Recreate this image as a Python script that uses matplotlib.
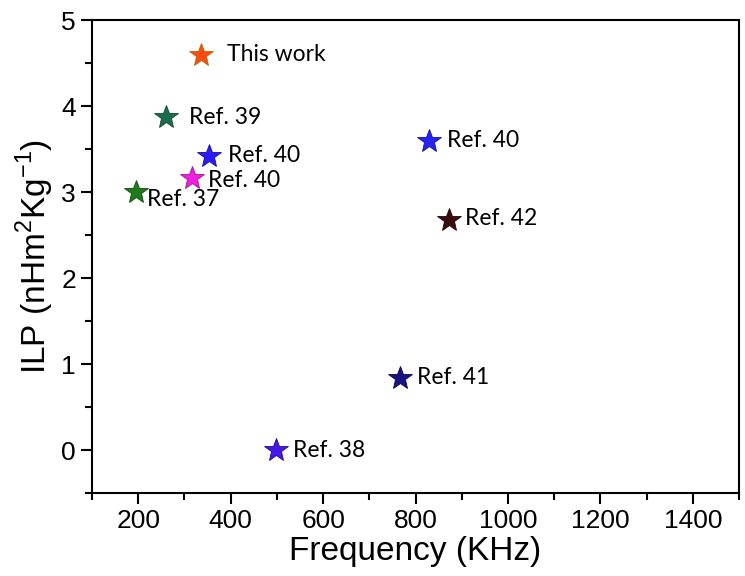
import matplotlib.pyplot as plt
from matplotlib.ticker import MultipleLocator

# data
freq = [335, 260, 353, 317, 196, 829, 872, 766, 498]
ilp = [4.6, 3.87, 3.42, 3.16, 3.0, 3.6, 2.68, 0.84, 0.0]
labels = ["This work", "Ref. 39", "Ref. 40", "Ref. 40", "Ref. 37",
          "Ref. 40", "Ref. 42", "Ref. 41", "Ref. 38"]
colors = ["#ff4a10", "#1d6a4c", "#2a1cf2", "#f21ee0", "#1f7a1c",
          "#2a22ee", "#3a0c0c", "#1a1480", "#4418e8"]
edges = ["#a07010", "#0e4a30", "#1010a0", "#a01090", "#0e4a0e",
         "#1010a0", "#200404", "#0a0850", "#2a0890"]
# label offsets in pixels (dx, dy)
offsets = [(26, 0), (23, 0), (19, 1), (16, -2), (11, -7),
           (18, 0), (16, 1), (17, 0), (17, 0)]

plt.rcParams['font.family'] = ['Liberation Sans', 'DejaVu Sans']

fig = plt.figure(figsize=(7.45, 5.76), dpi=100)
ax = fig.add_axes([0.1235, 0.144, 0.8685, 0.821])

for x, y, lab, c, ec, off in zip(freq, ilp, labels, colors, edges, offsets):
    ax.plot(x, y, marker='*', ms=18, color=c, mec=ec, mew=0.6, ls='none')
    ax.annotate(lab, (x, y), xytext=off, textcoords='offset pixels',
                ha='left', va='center', fontsize=16.5, family='Lato')

ax.set_xlim(100, 1500)
ax.set_ylim(-0.5, 5)
ax.xaxis.set_major_locator(MultipleLocator(200))
ax.xaxis.set_minor_locator(MultipleLocator(100))
ax.yaxis.set_major_locator(MultipleLocator(1))
ax.yaxis.set_minor_locator(MultipleLocator(0.5))
ax.set_xticks([200, 400, 600, 800, 1000, 1200, 1400])
ax.tick_params(which='both', direction='out', width=1.5, labelsize=19,
               top=False, right=False)
ax.tick_params(which='major', length=8)
ax.tick_params(which='minor', length=5)
for s in ax.spines.values():
    s.set_linewidth(1.5)

ax.set_xlabel("Frequency (KHz)", fontsize=24, labelpad=2)
ax.set_ylabel(r"ILP (nHm$^\mathregular{2}$Kg$^\mathregular{-1}$)", fontsize=24, labelpad=4)

fig.savefig("out.png", dpi=100)
